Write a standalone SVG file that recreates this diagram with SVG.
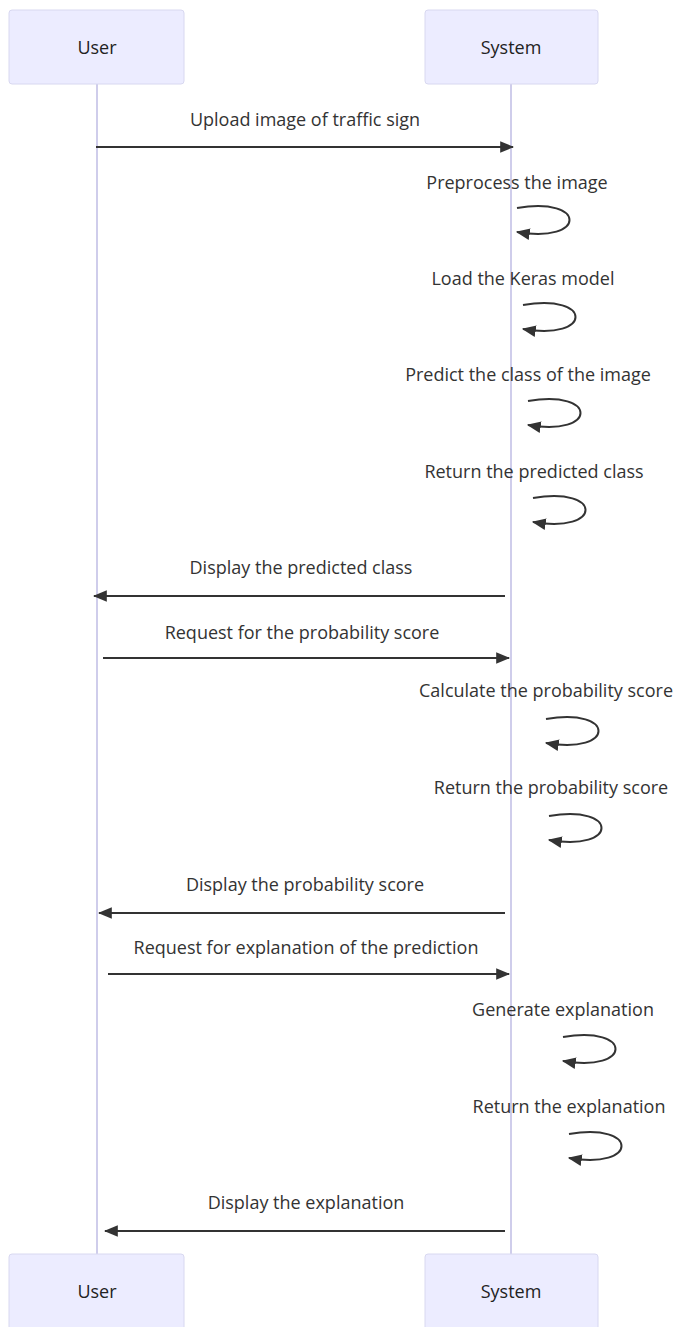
<svg xmlns="http://www.w3.org/2000/svg" width="675" height="1327" viewBox="0 0 675 1327">
<style>
.actor{fill:#ECECFF;stroke:#D8D8F0;stroke-width:1}
.alabel{font-family:"Open Sans","Liberation Sans",sans-serif;font-size:18px;fill:#222;text-anchor:middle}
.life{stroke:#CFCDEB;stroke-width:2;fill:none}
.msg{stroke:#333;stroke-width:2;fill:none;marker-end:url(#ah)}
.mtext{font-family:"Open Sans","Liberation Sans",sans-serif;font-size:18px;fill:#333;text-anchor:middle}
</style>
<defs>
<marker id="ah" markerUnits="userSpaceOnUse" markerWidth="14" markerHeight="14" viewBox="0 0 12 10" refX="11" refY="5" orient="auto">
<path d="M0,0 L12,5 L0,10 z" fill="#333"/>
</marker>
</defs>
<rect width="675" height="1327" fill="#fff"/>
<g id="lifelines">
<line class="life" x1="97" y1="84" x2="97" y2="1254"/>
<line class="life" x1="511" y1="84" x2="511" y2="1254"/>
</g>
<g id="user-top"><rect class="actor" x="9" y="10" width="175" height="74" rx="3"/><text class="alabel" x="97" y="54">User</text></g>
<g id="system-top"><rect class="actor" x="425" y="10" width="173" height="74" rx="3"/><text class="alabel" x="511" y="54">System</text></g>
<g id="user-bottom"><rect class="actor" x="9" y="1254" width="175" height="78" rx="3"/><text class="alabel" x="97" y="1298">User</text></g>
<g id="system-bottom"><rect class="actor" x="425" y="1254" width="173" height="78" rx="3"/><text class="alabel" x="511" y="1298">System</text></g>
<g id="connectors">
<line class="msg" x1="96" y1="147" x2="513" y2="147"/>
<path class="msg" d="M517,208 C587,196 587,244 517,232"/>
<path class="msg" d="M523,305 C593,293 593,341 523,329"/>
<path class="msg" d="M528,401 C598,389 598,437 528,425"/>
<path class="msg" d="M533,498 C603,486 603,534 533,522"/>
<line class="msg" x1="505" y1="596" x2="94" y2="596"/>
<line class="msg" x1="103" y1="658" x2="509" y2="658"/>
<path class="msg" d="M546,719 C616,707 616,755 546,743"/>
<path class="msg" d="M549,816 C619,804 619,852 549,840"/>
<line class="msg" x1="505" y1="913" x2="99" y2="913"/>
<line class="msg" x1="108" y1="974" x2="509" y2="974"/>
<path class="msg" d="M563,1037 C633,1025 633,1073 563,1061"/>
<path class="msg" d="M569,1134 C639,1122 639,1170 569,1158"/>
<line class="msg" x1="505" y1="1231" x2="105" y2="1231"/>
</g>
<g id="labels">
<text class="mtext" x="305" y="126">Upload image of traffic sign</text>
<text class="mtext" x="517" y="189">Preprocess the image</text>
<text class="mtext" x="523" y="285">Load the Keras model</text>
<text class="mtext" x="528" y="381">Predict the class of the image</text>
<text class="mtext" x="534" y="478">Return the predicted class</text>
<text class="mtext" x="301" y="574">Display the predicted class</text>
<text class="mtext" x="302" y="639">Request for the probability score</text>
<text class="mtext" x="546" y="697">Calculate the probability score</text>
<text class="mtext" x="551" y="794">Return the probability score</text>
<text class="mtext" x="305" y="891">Display the probability score</text>
<text class="mtext" x="306" y="954">Request for explanation of the prediction</text>
<text class="mtext" x="563" y="1016">Generate explanation</text>
<text class="mtext" x="569" y="1113">Return the explanation</text>
<text class="mtext" x="306" y="1209">Display the explanation</text>
</g>
</svg>
